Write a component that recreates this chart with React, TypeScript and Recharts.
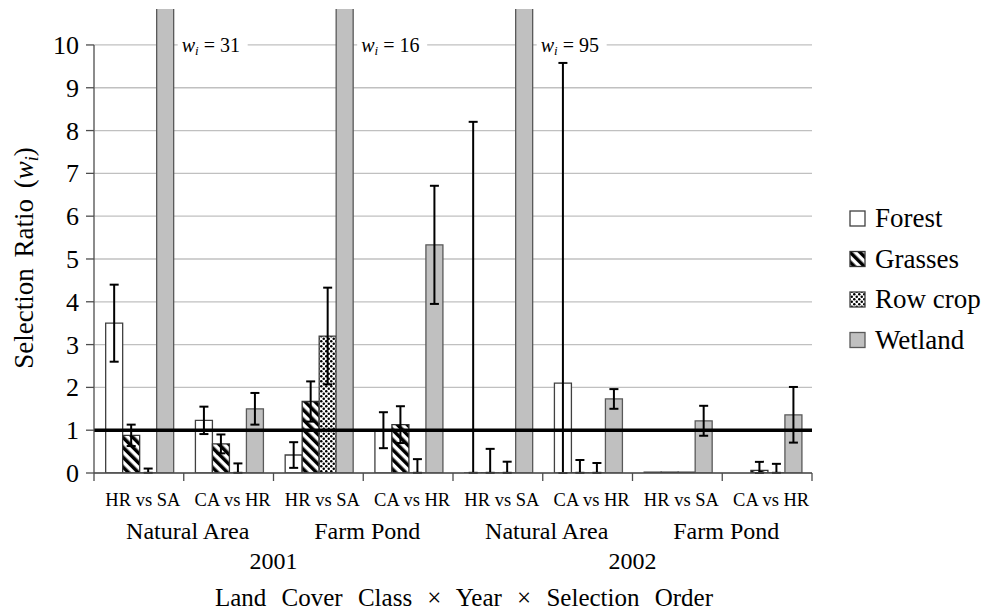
import React from 'react';
import {
  ComposedChart, Bar, XAxis, YAxis, CartesianGrid, ErrorBar, ReferenceLine, Legend, LabelList,
} from 'recharts';

const FONT = '"Liberation Serif", "Times New Roman", serif';

// x categories (selection order within land cover class within year)
const orders = ['HR vs SA', 'CA vs HR', 'HR vs SA', 'CA vs HR', 'HR vs SA', 'CA vs HR', 'HR vs SA', 'CA vs HR'];
const classes = ['Natural Area', 'Natural Area', 'Farm Pond', 'Farm Pond', 'Natural Area', 'Natural Area', 'Farm Pond', 'Farm Pond'];
const years = ['2001', '2001', '2001', '2001', '2002', '2002', '2002', '2002'];

// selection ratios (~0 where only an outline or a whisker shows), with [minus, plus] error
const forest = [3.5, 1.23, 0.42, 1.0, 0.004, 2.1, 0.02, 0];
const forestErr = [[0.9, 0.9], [0.32, 0.32], [0.3, 0.3], [0.42, 0.42], [0, 8.2], [2.1, 7.48], null, null];
const grasses = [0.88, 0.68, 1.67, 1.13, 0.004, 0.004, 0.02, 0.06];
const grassesErr = [[0.25, 0.25], [0.22, 0.22], [0.47, 0.47], [0.43, 0.43], [0, 0.56], [0, 0.3], null, [0.06, 0.2]];
const rowCrop = [0.004, 0.004, 3.2, 0.004, 0.004, 0.004, 0.02, 0.004];
const rowCropErr = [[0, 0.1], [0, 0.22], [1.13, 1.13], [0, 0.32], [0, 0.26], [0, 0.23], null, [0, 0.21]];
const wetland = [31, 1.5, 16, 5.33, 95, 1.73, 1.22, 1.36];
const wetlandErr = [null, [0.37, 0.37], null, [1.38, 1.38], null, [0.23, 0.23], [0.35, 0.35], [0.65, 0.65]];

const yTicks = [0, 1, 2, 3, 4, 5, 6, 7, 8, 9, 10];
const yMax = 10.84;
const equalUse = 1;
const xTitle = 'Land Cover Class × Year × Selection Order';

const data = orders.map((order, i) => ({
  key: `${years[i]}|${classes[i]}|${order}|${i}`,
  grp: `${years[i]}|${classes[i]}`,
  year: years[i],
  forest: forest[i],
  forestErr: forestErr[i],
  grasses: grasses[i],
  grassesErr: grassesErr[i],
  rowCrop: rowCrop[i],
  rowCropErr: rowCropErr[i],
  wetland: wetland[i],
  wetlandErr: wetlandErr[i],
}));

function Patterns({ prefix }: { prefix: string }) {
  return (
    <defs>
      <pattern id={`${prefix}grass`} patternUnits="userSpaceOnUse" width={7} height={7} patternTransform="rotate(-45)">
        <rect x={0} y={0} width={7} height={7} fill="#fff" />
        <rect x={0} y={0} width={3.5} height={7} fill="#000" />
      </pattern>
      <pattern id={`${prefix}row`} patternUnits="userSpaceOnUse" width={5} height={5}>
        <rect x={0} y={0} width={5} height={5} fill="#fff" />
        <circle cx={1.25} cy={1.25} r={1.25} fill="#000" />
        <circle cx={3.75} cy={3.75} r={1.25} fill="#000" />
      </pattern>
    </defs>
  );
}

const WiLabel = (props: any) => {
  const vb = props.viewBox || props;
  const { x, y, width, height } = vb;
  const value = Number(props.value);
  if (!(value > 10)) return null;
  const base = y + height;
  const y10 = base - (height / value) * 10;
  const tx = x + width + 8;
  return (
    <g>
      <rect x={x + width + 4} y={y10 - 11} width={70} height={22} fill="#fff" />
      <text x={tx} y={y10 + 7} fontFamily={FONT} fontSize={20} fill="#000">
        <tspan fontStyle="italic">w</tspan>
        <tspan fontStyle="italic" fontSize={13} dy={3}>i</tspan>
        <tspan dy={-3}>{` = ${value}`}</tspan>
      </text>
    </g>
  );
};

// y ticks: label, outward tick mark, and the axis line from this tick down to the previous one
const YTick = (props: any) => {
  const { x, y, payload, height } = props;
  const v = Number(payload.value);
  const step = height / yMax;
  return (
    <g>
      {v > 0 && <line x1={x} x2={x} y1={y} y2={y + step} stroke="#4d4d4d" strokeWidth={1.3} />}
      <line x1={x - 8} x2={x} y1={y} y2={y} stroke="#4d4d4d" strokeWidth={1.3} />
      <text x={x - 15} y={y + 9} textAnchor="end" fontFamily={FONT} fontSize={26} fill="#000">{payload.value}</text>
    </g>
  );
};

const YTitle = (props: any) => {
  const vb = props.viewBox || {};
  const cy = vb.y + vb.height - 215;
  return (
    <text transform={`translate(33, ${cy}) rotate(-90)`} x={0} y={0} textAnchor="middle"
      fontFamily={FONT} fontSize={27} fill="#000" style={{ wordSpacing: 4 }}>
      Selection Ratio (<tspan fontStyle="italic">w</tspan>
      <tspan fontStyle="italic" fontSize={18} dy={5}>i</tspan>
      <tspan dy={-5}>)</tspan>
    </text>
  );
};

const XTitle = (props: any) => {
  const vb = props.viewBox || {};
  return (
    <text x={vb.x + vb.width / 2 + 11} y={vb.y + vb.height + 40} textAnchor="middle"
      fontFamily={FONT} fontSize={25} fill="#000" style={{ wordSpacing: 9 }}>
      {xTitle}
    </text>
  );
};

// category ticks: label at band centre, tick marks on band boundaries (main axis only)
const makeTick = (size: number, fmt: (v: string) => string, marks: boolean, shift: number) => (props: any) => {
  const { x, y, payload, width, visibleTicksCount, index } = props;
  const bw = width / visibleTicksCount;
  return (
    <g>
      {marks && <line x1={x - bw / 2} x2={x - bw / 2} y1={y} y2={y + 8} stroke="#4d4d4d" strokeWidth={1.3} />}
      {marks && index === visibleTicksCount - 1 &&
        <line x1={x + bw / 2} x2={x + bw / 2} y1={y} y2={y + 8} stroke="#4d4d4d" strokeWidth={1.3} />}
      <text x={x + shift} y={y + 33} textAnchor="middle" fontFamily={FONT} fontSize={size} fill="#000">
        {fmt(String(payload.value))}
      </text>
    </g>
  );
};

const renderLegend = (props: any) => {
  const payload = props.payload || [];
  return (
    <svg width={150} height={170} style={{ display: 'block' }}>
      {payload.map((entry: any, i: number) => (
        <g key={entry.value}>
          <rect x={2} y={8 + i * 40.5} width={15} height={15} fill={entry.color}
            stroke={entry.payload?.stroke || '#404040'} strokeWidth={1.3} />
          <text x={27} y={24 + i * 40.5} fontFamily={FONT} fontSize={27} fill="#000">{entry.value}</text>
        </g>
      ))}
    </svg>
  );
};

export default function App() {
  return (
    <div style={{ position: 'absolute', left: 0, top: 0, width: 988, height: 613, background: '#fff', fontFamily: FONT }}>
      <ComposedChart width={988} height={613} data={data}
        margin={{ top: 9, right: 176, bottom: 47, left: 0 }} barCategoryGap="13%" barGap={0}>
        <Patterns prefix="p-" />
        <CartesianGrid vertical={false} stroke="#c0c0c0" strokeWidth={1.3} syncWithTicks />
        <XAxis dataKey="key" interval={0} height={33} tickSize={0} tickMargin={0} tickLine={false}
          axisLine={{ stroke: '#4d4d4d', strokeWidth: 1.3 }}
          tick={makeTick(18.5, (v) => v.split('|')[2], true, 4)} />
        <XAxis xAxisId="grp" dataKey="grp" allowDuplicatedCategory={false} interval={0} height={30}
          axisLine={false} tickLine={false} tickSize={0} tickMargin={0}
          tick={makeTick(24, (v) => v.split('|')[1], false, 4)} />
        <XAxis xAxisId="yr" dataKey="year" allowDuplicatedCategory={false} interval={0} height={30}
          axisLine={false} tickLine={false} tickSize={0} tickMargin={0}
          tick={makeTick(24, (v) => v, false, 0)} label={<XTitle />} />
        <YAxis width={94} domain={[0, yMax]} allowDataOverflow ticks={yTicks} interval={0}
          tickSize={0} tickMargin={0} axisLine={false} tickLine={false}
          tick={<YTick />} label={<YTitle />} />
        <Bar dataKey="forest" name="Forest" fill="#fff" stroke="#404040" strokeWidth={1.3} isAnimationActive={false}>
          <ErrorBar dataKey="forestErr" width={4.5} stroke="#000" strokeWidth={2} />
        </Bar>
        <Bar dataKey="grasses" name="Grasses" fill="url(#p-grass)" stroke="#333" strokeWidth={1.3} isAnimationActive={false}>
          <ErrorBar dataKey="grassesErr" width={4.5} stroke="#000" strokeWidth={2} />
        </Bar>
        <Bar dataKey="rowCrop" name="Row crop" fill="url(#p-row)" stroke="#404040" strokeWidth={1.3} isAnimationActive={false}>
          <ErrorBar dataKey="rowCropErr" width={4.5} stroke="#000" strokeWidth={2} />
        </Bar>
        <Bar dataKey="wetland" name="Wetland" fill="#c0c0c0" stroke="#595959" strokeWidth={1.3} isAnimationActive={false}>
          <ErrorBar dataKey="wetlandErr" width={4.5} stroke="#000" strokeWidth={2} />
          <LabelList dataKey="wetland" content={WiLabel} />
        </Bar>
        <ReferenceLine y={equalUse} stroke="#000" strokeWidth={3.5} />
        <Legend layout="vertical" align="center" verticalAlign="middle"
          wrapperStyle={{ left: 848, top: 203, width: 150 }} content={renderLegend} />
      </ComposedChart>
    </div>
  );
}
